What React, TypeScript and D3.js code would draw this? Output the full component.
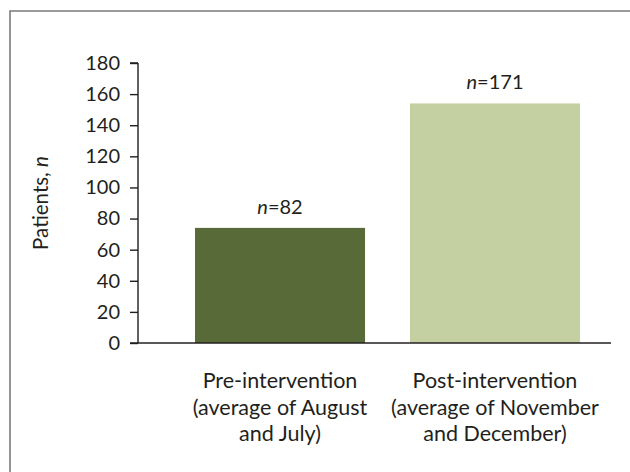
import React, { useRef, useEffect } from "react";
import * as d3 from "d3";

// values
const categories = ["pre", "post"];
const patients = [74, 154];
const barLabels = ["82", "171"];
const categoryLines = [
  ["Pre-intervention", "(average of August", "and July)"],
  ["Post-intervention", "(average of November", "and December)"],
];
const yTicks = [0, 20, 40, 60, 80, 100, 120, 140, 160, 180];
const barColors = ["#586a37", "#c4d0a2"];

const width = 630;
const height = 472;
const font = "Lato, 'Noto Sans', sans-serif";
const ink = "#231f20";

const App: React.FC = () => {
  const svgRef = useRef<SVGSVGElement>(null);

  useEffect(() => {
    if (!svgRef.current) return;
    const svg = d3.select(svgRef.current);
    svg.selectAll("*").remove();

    const axisX = 138;
    const axisEnd = 611;

    const y = d3.scaleLinear().domain([0, 180]).range([343, 63]);
    const x = d3
      .scaleBand<string>()
      .domain(categories)
      .range([195, 580])
      .paddingInner(0.209)
      .paddingOuter(0);

    // frame
    svg
      .append("path")
      .attr("d", `M10,${height + 2}V11H${width + 2}`)
      .attr("fill", "none")
      .attr("stroke", "#7a7a7a")
      .attr("stroke-width", 1.6);

    // bars
    svg
      .selectAll(".bar")
      .data(categories)
      .enter()
      .append("rect")
      .attr("class", "bar")
      .attr("x", (d) => x(d)!)
      .attr("width", x.bandwidth())
      .attr("y", (d, i) => y(patients[i]))
      .attr("height", (d, i) => y(0) - y(patients[i]))
      .attr("fill", (d, i) => barColors[i]);

    // n labels above bars
    const nText = svg
      .selectAll(".nlabel")
      .data(categories)
      .enter()
      .append("text")
      .attr("class", "nlabel")
      .attr("x", (d) => x(d)! + x.bandwidth() / 2)
      .attr("y", (d, i) => y(patients[i]) - 14)
      .attr("text-anchor", "middle")
      .attr("font-family", font)
      .attr("font-size", 20)
      .attr("fill", ink);
    nText.append("tspan").attr("font-style", "italic").text("n");
    nText.append("tspan").text((d, i) => "=" + barLabels[i]);

    // y axis
    const yAxis = svg
      .append("g")
      .attr("transform", `translate(${axisX},0)`)
      .call(d3.axisLeft(y).tickValues(yTicks).tickSize(8).tickPadding(10));
    yAxis.select(".domain").attr("stroke", ink).attr("stroke-width", 1.4).attr("d", `M0,${y(180)}V${y(0)}M-8,${y(180)}H0`);
    yAxis.selectAll(".tick line").attr("stroke", ink).attr("stroke-width", 1.4);
    yAxis
      .selectAll(".tick text")
      .attr("font-family", font)
      .attr("font-size", 20)
      .attr("fill", ink);

    // x axis line
    svg
      .append("line")
      .attr("x1", axisX - 8)
      .attr("x2", axisEnd)
      .attr("y1", y(0))
      .attr("y2", y(0))
      .attr("stroke", ink)
      .attr("stroke-width", 1.6);

    // category labels
    categories.forEach((c, i) => {
      const t = svg
        .append("text")
        .attr("text-anchor", "middle")
        .attr("font-family", font)
        .attr("font-size", 21.5)
        .attr("fill", ink);
      categoryLines[i].forEach((line, j) => {
        t.append("tspan")
          .attr("x", x(c)! + x.bandwidth() / 2)
          .attr("y", 388 + j * 26.5)
          .text(line);
      });
    });

    // y axis title
    const title = svg
      .append("text")
      .attr("transform", `translate(48,${(y(0) + y(180)) / 2}) rotate(-90)`)
      .attr("text-anchor", "middle")
      .attr("font-family", font)
      .attr("font-size", 20.5)
      .attr("fill", ink);
    title.append("tspan").text("Patients, ");
    title.append("tspan").attr("font-style", "italic").text("n");
  }, []);

  return (
    <svg
      ref={svgRef}
      width={width}
      height={height}
      style={{ position: "absolute", left: 0, top: 0, background: "#fff" }}
    ></svg>
  );
};

export default App;
